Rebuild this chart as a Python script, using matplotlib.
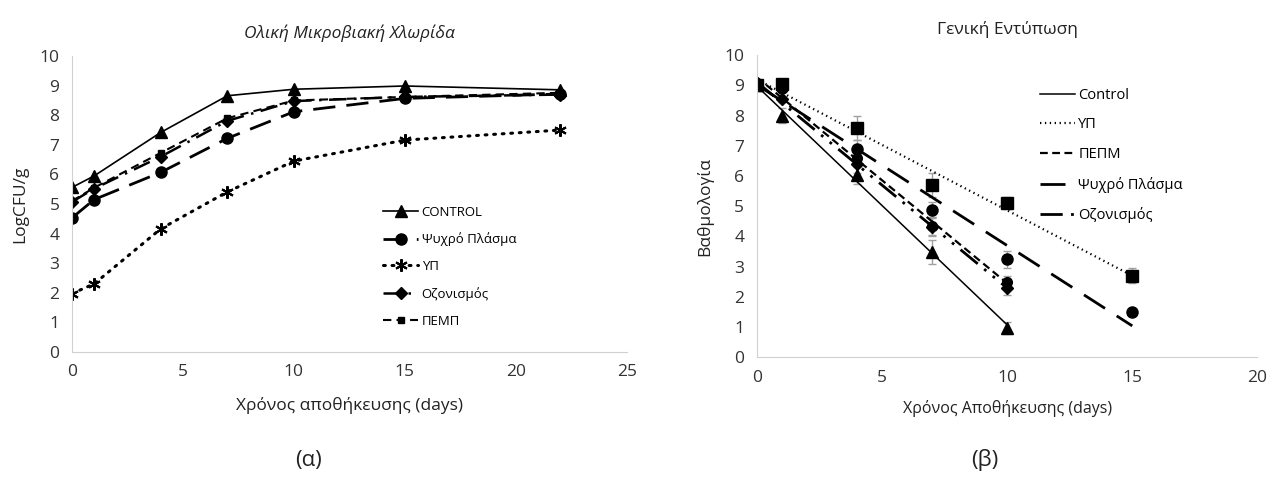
import numpy as np
import matplotlib.pyplot as plt

plt.rcParams['font.family'] = ['Open Sans', 'DejaVu Sans']

# (α) Ολική Μικροβιακή Χλωρίδα
days_a = [0, 1, 4, 7, 10, 15, 22]
control_a = [5.56, 5.95, 7.42, 8.66, 8.88, 8.99, 8.86]
plasma_a = [4.53, 5.15, 6.07, 7.22, 8.12, 8.57, 8.72]
yp_a = [1.97, 2.30, 4.16, 5.41, 6.45, 7.16, 7.50]
ozone_a = [5.07, 5.52, 6.60, 7.81, 8.48, 8.62, 8.70]
pemp_a = [5.10, 5.55, 6.73, 7.90, 8.50, 8.62, 8.76]

# (β) Γενική Εντύπωση
days_ctrl = [0, 1, 4, 7, 10]
ctrl_b = [9.0, 8.0, 6.04, 3.49, 0.97]
ctrl_err = [0, 0.25, 0.3, 0.4, 0.2]
days_yp = [0, 1, 4, 7, 10, 15]
yp_b = [9.0, 9.05, 7.6, 5.7, 5.1, 2.7]
yp_err = [0, 0.1, 0.4, 0.4, 0.2, 0.25]
days_pl = [0, 1, 4, 7, 10, 15]
plasma_b = [9.0, 8.9, 6.9, 4.88, 3.25, 1.5]
plasma_err = [0, 0.1, 0.3, 0.25, 0.28, 0]
days_pe = [0, 1, 4, 7, 10]
pepm_b = [9.0, 8.9, 6.6, 4.35, 2.5]
pepm_err = [0, 0.1, 0.3, 0.3, 0.2]
days_oz = [0, 1, 4, 7, 10]
ozone_b = [9.0, 8.55, 6.4, 4.3, 2.3]
ozone_err = [0, 0.1, 0.3, 0.3, 0.25]

fig = plt.figure(figsize=(12.74, 4.88), dpi=100)
ax1 = fig.add_axes([0.0565, 0.279, 0.4355, 0.606])
ax2 = fig.add_axes([0.594, 0.268, 0.393, 0.619])

axis_grey = '#d0d0d0'
txt = '#222222'
for ax in (ax1, ax2):
    for s in ('top', 'right'):
        ax.spines[s].set_visible(False)
    ax.spines['left'].set_color(axis_grey)
    ax.spines['bottom'].set_color(axis_grey)
    ax.tick_params(length=0, labelsize=12.5, colors='#333333', pad=9)
    ax.set_ylim(0, 10)
    ax.set_yticks(range(0, 11))

# left chart
k = dict(color='black')
ax1.plot(days_a, control_a, '-', marker='^', ms=8, lw=1.2, label='CONTROL', **k)
ax1.plot(days_a, plasma_a, marker='o', ms=8, lw=2, dashes=(8, 4), label='Ψυχρό Πλάσμα', **k)
ax1.plot(days_a, yp_a, marker=(6, 2, 0), ms=9, mew=1.5, lw=2.2, dashes=(0.6, 2.2),
         dash_capstyle='round', label='ΥΠ', **k)
ax1.plot(days_a, ozone_a, marker='D', ms=6, lw=1.8, dashes=(7, 3, 1, 3), label='Οζονισμός', **k)
ax1.plot(days_a, pemp_a, marker='s', ms=5, lw=1.5, dashes=(4, 2.5), label='ΠΕΜΠ', **k)
ax1.set_xlim(0, 25)
ax1.set_xticks(range(0, 26, 5))
ax1.set_title('Ολική Μικροβιακή Χλωρίδα', fontsize=12.5, style='italic', pad=13, color=txt)
ax1.set_xlabel('Χρόνος αποθήκευσης (days)', fontsize=12.5, labelpad=12, color=txt)
ax1.set_ylabel('LogCFU/g', fontsize=12.5, labelpad=8, color=txt)
ax1.legend(loc='upper left', bbox_to_anchor=(0.54, 0.535), frameon=False, fontsize=9.5,
           handlelength=2.6, labelspacing=1.05, handletextpad=0.3)

# right chart
eb = dict(fmt='none', ecolor='#a0a0a0', elinewidth=1, capsize=3)
ax2.errorbar(days_ctrl, ctrl_b, yerr=ctrl_err, **eb)
ax2.errorbar(days_yp, yp_b, yerr=yp_err, **eb)
ax2.errorbar(days_pl, plasma_b, yerr=plasma_err, **eb)
ax2.errorbar(days_pe, pepm_b, yerr=pepm_err, **eb)
ax2.errorbar(days_oz, ozone_b, yerr=ozone_err, **eb)
ax2.plot(days_ctrl, ctrl_b, '^', ms=8, color='black')
ax2.plot(days_yp, yp_b, 's', ms=8, color='black')
ax2.plot(days_pl, plasma_b, 'o', ms=8, color='black')
ax2.plot(days_pe, pepm_b, 'o', ms=7, color='black')
ax2.plot(days_oz, ozone_b, 'D', ms=6, color='black')

def trend(ax, x, y, label, **kw):
    p = np.polyfit(x, y, 1)
    xs = np.array([0, max(x)])
    ax.plot(xs, np.polyval(p, xs), color='black', label=label, **kw)

trend(ax2, days_ctrl, ctrl_b, 'Control', lw=1.1)
trend(ax2, days_yp, yp_b, 'ΥΠ', lw=1.6, dashes=(0.6, 1.6))
trend(ax2, days_pe, pepm_b, 'ΠΕΠΜ', lw=1.6, dashes=(3.5, 2))
trend(ax2, days_pl, plasma_b, 'Ψυχρό Πλάσμα', lw=2, dashes=(9, 5))
trend(ax2, days_oz, ozone_b, 'Οζονισμός', lw=2, dashes=(8, 3, 1, 3, 1, 3))
ax2.set_xlim(0, 20)
ax2.set_xticks(range(0, 21, 5))
ax2.set_title('Γενική Εντύπωση', fontsize=12.5, pad=15, color=txt)
ax2.set_xlabel('Χρόνος Αποθήκευσης (days)', fontsize=11.5, labelpad=10, color=txt)
ax2.set_ylabel('Βαθμολογία', fontsize=12.5, labelpad=8, color=txt)
ax2.legend(loc='upper left', bbox_to_anchor=(0.54, 0.935), frameon=False, fontsize=10.5,
           handlelength=2.4, labelspacing=1.0, handletextpad=0.2)

fig.text(0.242, 0.045, '(α)', fontsize=16, ha='center', color=txt)
fig.text(0.773, 0.045, '(β)', fontsize=16, ha='center', color=txt)

fig.savefig('out.png', dpi=100)
